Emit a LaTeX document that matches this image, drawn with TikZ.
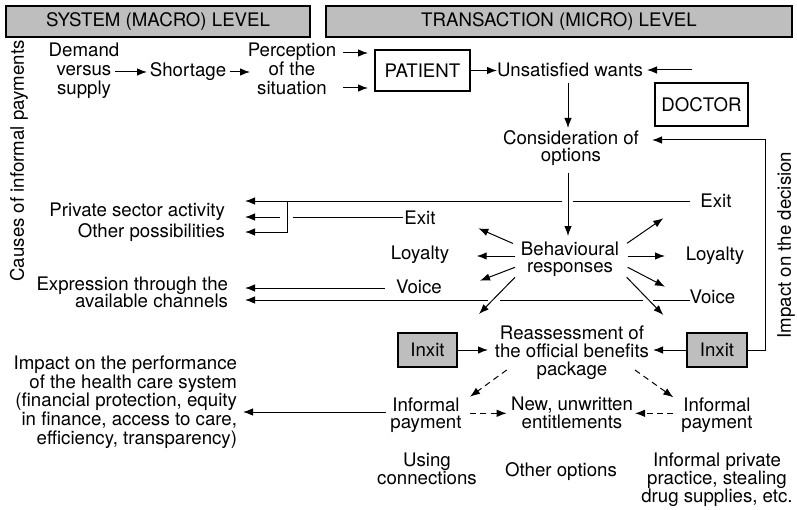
\documentclass[tikz,border=0pt]{standalone}
\usepackage{fontspec}
\setmainfont{TeX Gyre Heros}
\usetikzlibrary{arrows.meta}
\definecolor{boxgray}{RGB}{190,190,190}
\lineskiplimit=-30pt
\begin{document}
\begin{tikzpicture}[x=0.75pt,y=-0.75pt,
  every node/.style={inner sep=0pt, outer sep=0pt},
  lbl/.style={font=\fontsize{14}{#1}\selectfont, align=center},
  lbl/.default=14,
  hdr/.style={draw, line width=0.9pt, fill=boxgray, font=\fontsize{14}{14}\selectfont},
  wbox/.style={draw, line width=0.8pt, fill=white, font=\fontsize{14}{14}\selectfont},
  gbox/.style={draw, line width=0.8pt, fill=boxgray, font=\fontsize{14}{14}\selectfont},
  arr/.style={-{Latex[length=7.5pt,width=5.6pt]}, line width=0.75pt},
  ln/.style={line width=0.75pt},
  dsh/.style={arr, dash pattern=on 4.5pt off 3.3pt}
]
\useasboundingbox (0,0) rectangle (797,510);

% headers
\node[hdr, minimum width=228pt, minimum height=23.25pt] (hsys) at (158,21.5) {SYSTEM (MACRO) LEVEL};
\node[hdr, minimum width=349.5pt, minimum height=23.25pt] (htr) at (559,21.5) {TRANSACTION (MICRO) LEVEL};

% side labels
\node[lbl, rotate=90] (causes) at (19,161) {Causes of informal payments};
\node[lbl, rotate=90] (impdec) at (786,245) {Impact on the decision};

% top row
\node[lbl=14.2] (dem) at (84,71) {Demand\\versus\\supply};
\node[lbl] (short) at (188,71.2) {Shortage};
\node[lbl=14.2] (perc) at (292,69) {Perception\\of the\\situation};
\node[wbox, minimum width=71.25pt, minimum height=30.75pt] (pat) at (422.5,70.5) {PATIENT};
\node[lbl] (uw) at (570,69.9) {Unsatisfied wants};
\node[wbox, minimum width=69.75pt, minimum height=32.25pt] (doc) at (701.5,104.5) {DOCTOR};
\node[lbl=13.2] (cons) at (571,148.2) {Consideration of\\options};

% behavioural responses
\node[lbl=12.9] (beh) at (570,259.3) {Behavioural\\responses};
\node[lbl] (exitR) at (716,201.2) {Exit};
\node[lbl] (loyR) at (715,255.9) {Loyalty};
\node[lbl] (voiceR) at (712.5,297.2) {Voice};
\node[lbl] (exitL) at (420,218) {Exit};
\node[lbl] (loyL) at (420,254.5) {Loyalty};
\node[lbl] (voiceL) at (419,286.7) {Voice};
\node[lbl, anchor=east] (priv) at (225,211.5) {Private sector activity};
\node[lbl, anchor=east] (other) at (225,233) {Other possibilities};
\node[lbl=12.6, align=right, anchor=east] (expr) at (228,292.4) {Expression through the\\available channels};

% reassessment
\node[lbl=13.6] (reas) at (572,352.7) {Reassessment of\\the official benefits\\package};
\node[gbox, minimum width=44.25pt, minimum height=25.5pt] (inxL) at (427.5,350) {Inxit};
\node[gbox, minimum width=45pt, minimum height=25.5pt] (inxR) at (717,350) {Inxit};
\node[lbl=13.3] (infL) at (426,415.2) {Informal\\payment};
\node[lbl=13.3] (newent) at (572,413.2) {New, unwritten\\entitlements};
\node[lbl=13.3] (infR) at (717,415.2) {Informal\\payment};
\node[lbl=14, align=right, anchor=east] (impact) at (237,402.2) {Impact on the performance\\of the health care system\\(financial protection, equity\\in finance, access to care,\\efficiency, transparency)};
\node[lbl=13.4] (using) at (427,468.7) {Using\\connections};
\node[lbl] (otheropt) at (561,471.2) {Other options};
\node[lbl=13.4] (infpriv) at (717,479.4) {Informal private\\practice, stealing\\drug supplies, etc.};

% coordinates for free ends
\coordinate (demout) at (115,72);
\coordinate (shortin) at (147,72);
\coordinate (shortout) at (230,72);
\coordinate (percin) at (250,72);
\coordinate (percoutA) at (343,53);
\coordinate (patinA) at (368,53);
\coordinate (percoutB) at (343,88);
\coordinate (patinB) at (368,88);
\coordinate (docout) at (692,70);
\coordinate (uwin) at (647,70);
\coordinate (uwout) at (568,83);
\coordinate (consin) at (568,128);
\coordinate (consout) at (568,173);
\coordinate (behin) at (568,236);
\coordinate (fbcorner) at (765,140);
\coordinate (fbend) at (652,140);
% exit lines
\coordinate (exRa) at (690,201);
\coordinate (exRb) at (573,201);
\coordinate (exRc) at (562,201);
\coordinate (tipA) at (245,201);
\coordinate (brTop) at (287,201);
\coordinate (brBot) at (287,232);
\coordinate (tipC) at (245,232);
\coordinate (exLa) at (403,217);
\coordinate (exLb) at (293,217);
\coordinate (exLc) at (280,217);
\coordinate (tipB) at (245,217);
% voice lines
\coordinate (voLa) at (385,288);
\coordinate (tipD) at (245,288);
\coordinate (voRa) at (690,300);
\coordinate (voRb) at (653,300);
\coordinate (voRc) at (643,300);
\coordinate (voRd) at (500,300);
\coordinate (voRe) at (488,300);
\coordinate (tipE) at (245,300);
% diagonals
\coordinate (bUL) at (513,243.5);   \coordinate (tUL) at (478.3,228.3);
\coordinate (bL) at (515,256);      \coordinate (tL) at (476.7,256);
\coordinate (bLL) at (515,267.3);   \coordinate (tLL) at (480,280.7);
\coordinate (bLLL) at (515,277.3);  \coordinate (tLLL) at (479,314);
\coordinate (bUR) at (627,243.3);   \coordinate (tUR) at (663.3,218.3);
\coordinate (bR) at (627.7,256);    \coordinate (tR) at (665,256);
\coordinate (bLR) at (627.7,267.3); \coordinate (tLR) at (665,286.7);
\coordinate (bLLR) at (626.7,277.3);\coordinate (tLLR) at (663.3,315);
% bottom
\coordinate (reasinL) at (488,350);
\coordinate (reasinR) at (653,350);
\coordinate (reasoutL) at (506.7,370);
\coordinate (infLin) at (470,396.7);
\coordinate (reasoutR) at (635,370);
\coordinate (infRin) at (673.3,397.3);
\coordinate (infLout) at (470,413.3);
\coordinate (newinL) at (506.7,413.3);
\coordinate (infRout) at (673.3,413.3);
\coordinate (newinR) at (635,413.3);
\coordinate (impstart) at (386,412);
\coordinate (impend) at (243,412);

% connectors: top
\draw[arr] (demout) -- (shortin);
\draw[arr] (shortout) -- (percin);
\draw[arr] (percoutA) -- (patinA);
\draw[arr] (percoutB) -- (patinB);
\draw[arr] (pat.east) -- (pat.east -| uw.west);
\draw[arr] (docout) -- (uwin);
\draw[arr] (uwout) -- (consin);
\draw[arr] (consout) -- (behin);
\draw[arr] (inxR.east) -| (fbcorner) -- (fbend);

% exit
\draw[ln] (exRa) -- (exRb);
\draw[arr] (exRc) -- (tipA);
\draw[arr] (brTop) -- (brBot) -- (tipC);
\draw[ln] (exLa) -- (exLb);
\draw[arr] (exLc) -- (tipB);
% voice
\draw[arr] (voLa) -- (tipD);
\draw[ln] (voRa) -- (voRb);
\draw[ln] (voRc) -- (voRd);
\draw[arr] (voRe) -- (tipE);

% diagonals
\draw[arr] (bUL) -- (tUL);
\draw[arr] (bL) -- (tL);
\draw[arr] (bLL) -- (tLL);
\draw[arr] (bLLL) -- (tLLL);
\draw[arr] (bUR) -- (tUR);
\draw[arr] (bR) -- (tR);
\draw[arr] (bLR) -- (tLR);
\draw[arr] (bLLR) -- (tLLR);

% bottom
\draw[arr] (inxL.east) -- (reasinL);
\draw[arr] (inxR.west) -- (reasinR);
\draw[dsh] (reasoutL) -- (infLin);
\draw[dsh] (reasoutR) -- (infRin);
\draw[dsh] (infLout) -- (newinL);
\draw[dsh] (infRout) -- (newinR);
\draw[arr] (impstart) -- (impend);
\end{tikzpicture}
\end{document}
